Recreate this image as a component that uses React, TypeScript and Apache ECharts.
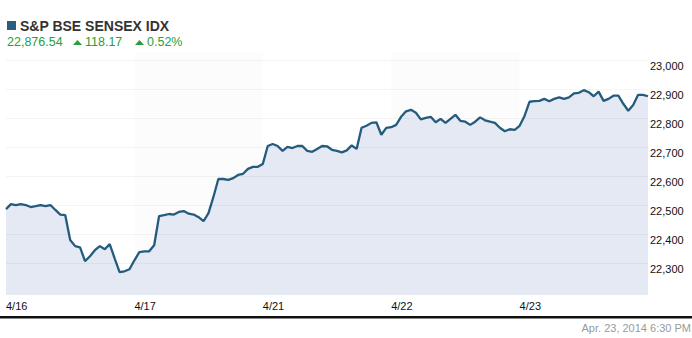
import React, { useEffect, useRef } from "react";
import * as echarts from "echarts";

const dayLabels = ["4/16", "4/17", "4/21", "4/22", "4/23"];
const yTicks = [22300, 22400, 22500, 22600, 22700, 22800, 22900, 23000];
const pointsPerDay = 26;

const day0416 = [22487, 22504, 22501, 22504, 22501, 22494, 22497, 22501, 22497, 22501, 22484, 22468, 22466, 22380, 22359, 22355, 22307, 22324, 22345, 22359, 22348, 22366, 22317, 22269, 22272, 22279];
const day0417 = [22310, 22338, 22341, 22341, 22362, 22463, 22466, 22470, 22468, 22477, 22480, 22471, 22468, 22459, 22445, 22473, 22529, 22591, 22591, 22588, 22594, 22605, 22609, 22626, 22633, 22633];
const day0421 = [22643, 22705, 22712, 22705, 22688, 22702, 22698, 22705, 22705, 22688, 22685, 22695, 22705, 22704, 22692, 22688, 22683, 22690, 22707, 22695, 22768, 22775, 22785, 22787, 22744, 22768];
const day0422 = [22770, 22778, 22806, 22825, 22830, 22820, 22797, 22802, 22806, 22787, 22799, 22785, 22799, 22813, 22792, 22789, 22778, 22789, 22804, 22794, 22789, 22785, 22768, 22756, 22763, 22761];
const day0423 = [22775, 22809, 22858, 22860, 22861, 22868, 22860, 22868, 22873, 22868, 22873, 22887, 22889, 22898, 22891, 22877, 22893, 22861, 22868, 22879, 22879, 22851, 22827, 22847, 22882, 22882, 22877];
const days = [day0416, day0417, day0421, day0422, day0423];

const title = "S&P BSE SENSEX IDX";
const lastValue = "22,876.54";
const change = "118.17";
const changePct = "0.52%";
const stamp = "Apr. 23, 2014 6:30 PM";

const FONT = "'Liberation Sans', Arial, Helvetica, sans-serif";
const GREEN = "#27a03a";

export default function App() {
  const ref = useRef<HTMLDivElement>(null);
  useEffect(() => {
    if (!ref.current) return;
    const chart = echarts.init(ref.current, undefined, { renderer: "svg" });
    const data: number[][] = [];
    days.forEach((vals, d) => {
      vals.forEach((v, i) => data.push([d + i / pointsPerDay, v]));
    });
    chart.setOption({
      animation: false,
      backgroundColor: "#ffffff",
      textStyle: { fontFamily: FONT },
      grid: { left: 6, right: 44, top: 52, bottom: 43 },
      xAxis: {
        type: "value",
        min: 0,
        max: 5,
        interval: 1,
        axisLine: { show: false },
        axisTick: { show: false },
        splitLine: { show: false },
        axisLabel: {
          formatter: (v: number) => dayLabels[v] ?? "",
          align: "left",
          margin: 5,
          fontSize: 11,
          color: "#111",
          fontFamily: FONT,
          showMaxLabel: false,
        },
      },
      yAxis: {
        type: "value",
        position: "right",
        min: 22190,
        max: 23030,
        interval: 10,
        axisLine: { show: false },
        axisTick: { show: false },
        splitLine: { show: false },
        axisLabel: {
          formatter: (v: number) => (yTicks.includes(v) ? v.toLocaleString("en-US") : ""),
          verticalAlign: "top",
          margin: 2,
          fontSize: 11,
          color: "#111",
          fontFamily: FONT,
        },
      },
      series: [
        {
          type: "line",
          data,
          showSymbol: false,
          symbol: "none",
          lineStyle: { color: "#255b7d", width: 2.3 },
          areaStyle: { color: "#e4e9f4", opacity: 1 },
          markArea: {
            silent: true,
            itemStyle: { color: "rgba(0,0,0,0.012)" },
            data: [
              [{ xAxis: 1 }, { xAxis: 2 }],
              [{ xAxis: 3 }, { xAxis: 4 }],
            ],
          },
          markLine: {
            silent: true,
            symbol: "none",
            label: { show: false },
            lineStyle: { color: "rgba(0,0,0,0.045)", width: 1, type: "solid" },
            data: yTicks.map((t) => ({ yAxis: t })),
          },
        },
      ],
      graphic: [
        { type: "rect", shape: { x: 7, y: 21, width: 9, height: 9 }, style: { fill: "#2b5d80" } },
        {
          type: "text",
          x: 20,
          y: 26,
          style: { text: title, font: `bold 14px ${FONT}`, fill: "#333", verticalAlign: "middle" },
        },
        {
          type: "text",
          x: 7,
          y: 42,
          style: { text: lastValue, font: `12.5px ${FONT}`, fill: GREEN, verticalAlign: "middle" },
        },
        { type: "polygon", shape: { points: [[73, 45], [82, 45], [77.5, 40]] }, style: { fill: GREEN } },
        {
          type: "text",
          x: 85,
          y: 42,
          style: { text: change, font: `12.5px ${FONT}`, fill: GREEN, verticalAlign: "middle" },
        },
        { type: "polygon", shape: { points: [[135, 45], [144, 45], [139.5, 40]] }, style: { fill: GREEN } },
        {
          type: "text",
          x: 147,
          y: 42,
          style: { text: changePct, font: `12.5px ${FONT}`, fill: GREEN, verticalAlign: "middle" },
        },
        { type: "rect", shape: { x: 0, y: 316, width: 692, height: 2.5 }, style: { fill: "#111" } },
        {
          type: "text",
          x: 691,
          y: 328,
          style: { text: stamp, font: `11px ${FONT}`, fill: "#9a9a9a", align: "right", verticalAlign: "middle" },
        },
      ],
    });
    return () => chart.dispose();
  }, []);
  return (
    <div
      ref={ref}
      style={{ position: "fixed", left: 0, top: 0, width: 692, height: 338 }}
    />
  );
}
